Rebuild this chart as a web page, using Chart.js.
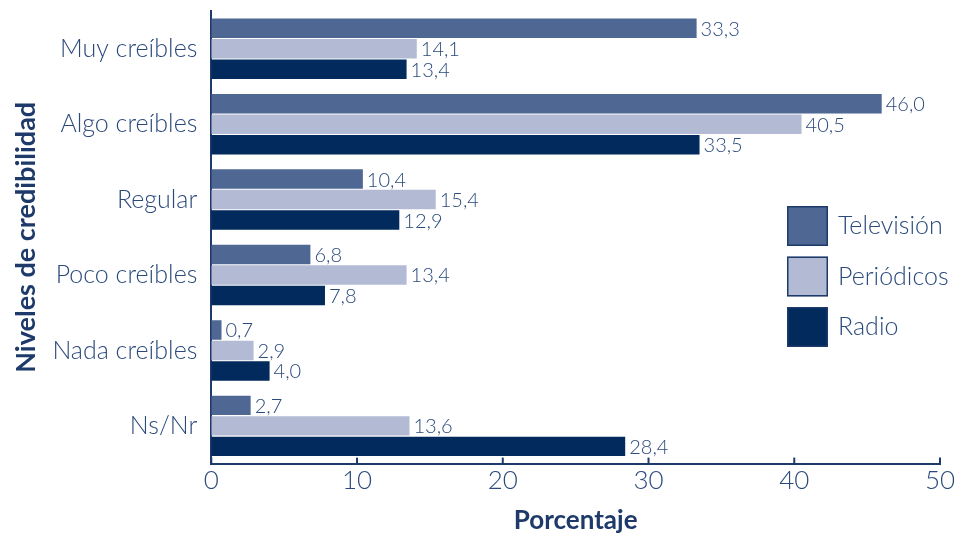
<!DOCTYPE html>
<html>
<head>
<meta charset="utf-8">
<script src="https://cdn.jsdelivr.net/npm/chart.js@4"></script>
<style>
  body { margin: 0; background: #fff; }
  #wrap { width: 962px; height: 533px; }
</style>
</head>
<body>
<div id="wrap"><canvas id="credibilidad" width="962" height="533"></canvas></div>
<script>
// Datos
const categorias = ['Muy creíbles', 'Algo creíbles', 'Regular', 'Poco creíbles', 'Nada creíbles', 'Ns/Nr'];
const television = [33.3, 46.0, 10.4, 6.8, 0.7, 2.7];
const periodicos = [14.1, 40.5, 15.4, 13.4, 2.9, 13.6];
const radio = [13.4, 33.5, 12.9, 7.8, 4.0, 28.4];
const ticksX = [0, 10, 20, 30, 40, 50];

const colTexto = '#2b4a7c';
const colEje = '#1d3a6b';
const fuente = 'Lato';

// etiquetas de valor a la derecha de cada barra
const etiquetas = {
    id: 'etiquetas',
    afterDatasetsDraw(chart) {
        const ctx = chart.ctx;
        ctx.save();
        ctx.font = '300 20px ' + fuente;
        ctx.fillStyle = colTexto;
        ctx.textBaseline = 'middle';
        chart.data.datasets.forEach((ds, i) => {
            chart.getDatasetMeta(i).data.forEach((bar, j) => {
                ctx.fillText(ds.data[j].toFixed(1).replace('.', ','), bar.x + 4, bar.y + 1);
            });
        });
        ctx.restore();
    }
};

// marcas del eje X hacia dentro + leyenda
const extras = {
    id: 'extras',
    afterDraw(chart) {
        const ctx = chart.ctx;
        const x = chart.scales.x;
        const area = chart.chartArea;
        ctx.save();
        ctx.strokeStyle = colEje;
        ctx.lineWidth = 2;
        ticksX.forEach(v => {
            const px = x.getPixelForValue(v);
            ctx.beginPath();
            ctx.moveTo(px, area.bottom);
            ctx.lineTo(px, area.bottom - 6);
            ctx.stroke();
        });
        // leyenda
        const lx = area.right - 153;
        let ly = area.top + 195;
        chart.data.datasets.forEach(ds => {
            ctx.fillStyle = ds.backgroundColor;
            ctx.fillRect(lx, ly, 41, 40);
            ctx.strokeStyle = colEje;
            ctx.lineWidth = 1.5;
            ctx.strokeRect(lx + 0.75, ly + 0.75, 39.5, 38.5);
            ctx.fillStyle = colTexto;
            ctx.font = '300 25px ' + fuente;
            ctx.textBaseline = 'middle';
            ctx.fillText(ds.label, lx + 51, ly + 20);
            ly += 50.5;
        });
        ctx.restore();
    }
};

const ctx = document.getElementById('credibilidad').getContext('2d');
new Chart(ctx, {
    type: 'bar',
    data: {
        labels: categorias,
        datasets: [
            { label: 'Televisión', data: television, backgroundColor: '#4f6793' },
            { label: 'Periódicos', data: periodicos, backgroundColor: '#b3bbd4' },
            { label: 'Radio', data: radio, backgroundColor: '#022a5c' }
        ]
    },
    options: {
        indexAxis: 'y',
        responsive: false,
        animation: false,
        barPercentage: 0.95,
        categoryPercentage: 0.815,
        layout: { padding: { top: 11, right: 22, left: 10, bottom: -3 } },
        plugins: {
            legend: { display: false },
            tooltip: { enabled: false }
        },
        scales: {
            x: {
                min: 0,
                max: 50,
                afterBuildTicks: s => { s.ticks = ticksX.map(v => ({ value: v })); },
                grid: { display: false },
                border: { display: true, color: colEje, width: 2 },
                ticks: { color: colTexto, font: { family: fuente, size: 26, weight: 300 }, padding: -7 },
                title: {
                    display: true, text: 'Porcentaje', color: colEje,
                    font: { family: fuente, size: 26, weight: 'bold' }, padding: { top: 16, bottom: 0 }
                }
            },
            y: {
                afterFit: s => { s.paddingTop = 0; s.paddingBottom = 0; },
                grid: { display: false },
                border: { display: true, color: colEje, width: 2 },
                ticks: { color: colTexto, font: { family: fuente, size: 25, weight: 300 }, padding: 6 },
                title: {
                    display: true, text: 'Niveles de credibilidad', color: colEje,
                    font: { family: fuente, size: 27, weight: 'bold' }, padding: { top: 0, bottom: 4 }
                }
            }
        }
    },
    plugins: [etiquetas, extras]
});
</script>
</body>
</html>
